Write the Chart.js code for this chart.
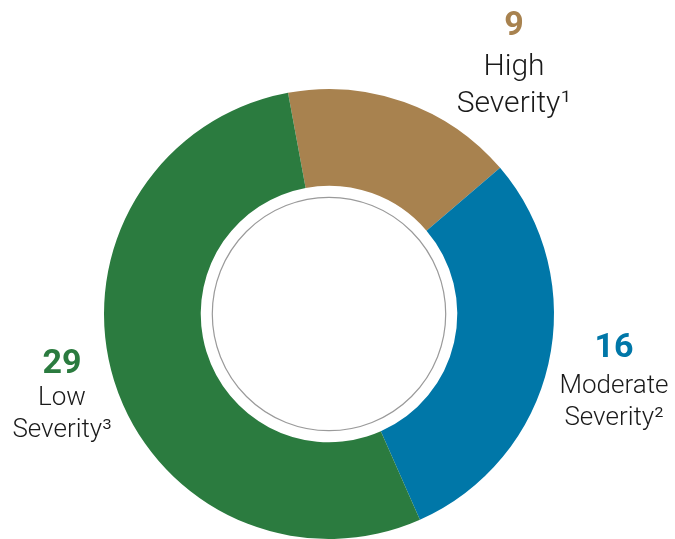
<!DOCTYPE html>
<html>
<head>
<meta charset="utf-8">
<script src="https://cdn.jsdelivr.net/npm/chart.js@4"></script>
<style>
  html, body { margin: 0; padding: 0; background: #fff; }
  #wrap { width: 675px; height: 539px; position: relative; }
</style>
</head>
<body>
<div id="wrap"><canvas id="severityChart" width="675" height="539"></canvas></div>
<script>
// data
const categories = ['High', 'Moderate', 'Low'];
const footnotes = ['\u00B9', '\u00B2', '\u00B3'];
const counts = [9, 16, 29];
const colors = ['#A8824F', '#0077A8', '#2B7B3F'];

// where each category's label block sits (centre x, baselines of number / line 1 / line 2)
const labelLayout = [
    { x: 514, y: [35, 75, 112], size: 30 },
    { x: 614, y: [357, 393, 425], size: 26 },
    { x: 62, y: [373, 405, 437], size: 26 }
];

const innerRing = {
    id: 'innerRing',
    afterDatasetsDraw(chart) {
        const arc = chart.getDatasetMeta(0).data[0];
        if (!arc) return;
        const ctx = chart.ctx;
        ctx.save();
        ctx.beginPath();
        ctx.arc(arc.x, arc.y, arc.innerRadius * 0.91, 0, Math.PI * 2);
        ctx.strokeStyle = '#9a9a9a';
        ctx.lineWidth = 1.2;
        ctx.stroke();
        ctx.restore();
    }
};

const sideLabels = {
    id: 'sideLabels',
    afterDraw(chart) {
        const ctx = chart.ctx;
        ctx.save();
        ctx.textAlign = 'center';
        ctx.textBaseline = 'alphabetic';
        categories.forEach((cat, i) => {
            const l = labelLayout[i];
            ctx.fillStyle = colors[i];
            ctx.font = 'bold 34px Roboto';
            ctx.fillText(String(counts[i]), l.x, l.y[0]);
            ctx.fillStyle = '#1a1a1a';
            ctx.font = '300 ' + l.size + 'px Roboto';
            ctx.fillText(cat, l.x, l.y[1]);
            ctx.fillText('Severity' + footnotes[i], l.x, l.y[2]);
        });
        ctx.restore();
    }
};

const ctx = document.getElementById('severityChart').getContext('2d');
new Chart(ctx, {
    type: 'doughnut',
    data: {
        labels: categories,
        datasets: [{
            data: counts,
            backgroundColor: colors,
            borderWidth: 0
        }]
    },
    options: {
        responsive: false,
        animation: false,
        rotation: -10.5,
        cutout: '57%',
        layout: { padding: { left: 104, right: 121, top: 89, bottom: 0 } },
        plugins: {
            legend: { display: false },
            tooltip: { enabled: false }
        }
    },
    plugins: [innerRing, sideLabels]
});
</script>
</body>
</html>
